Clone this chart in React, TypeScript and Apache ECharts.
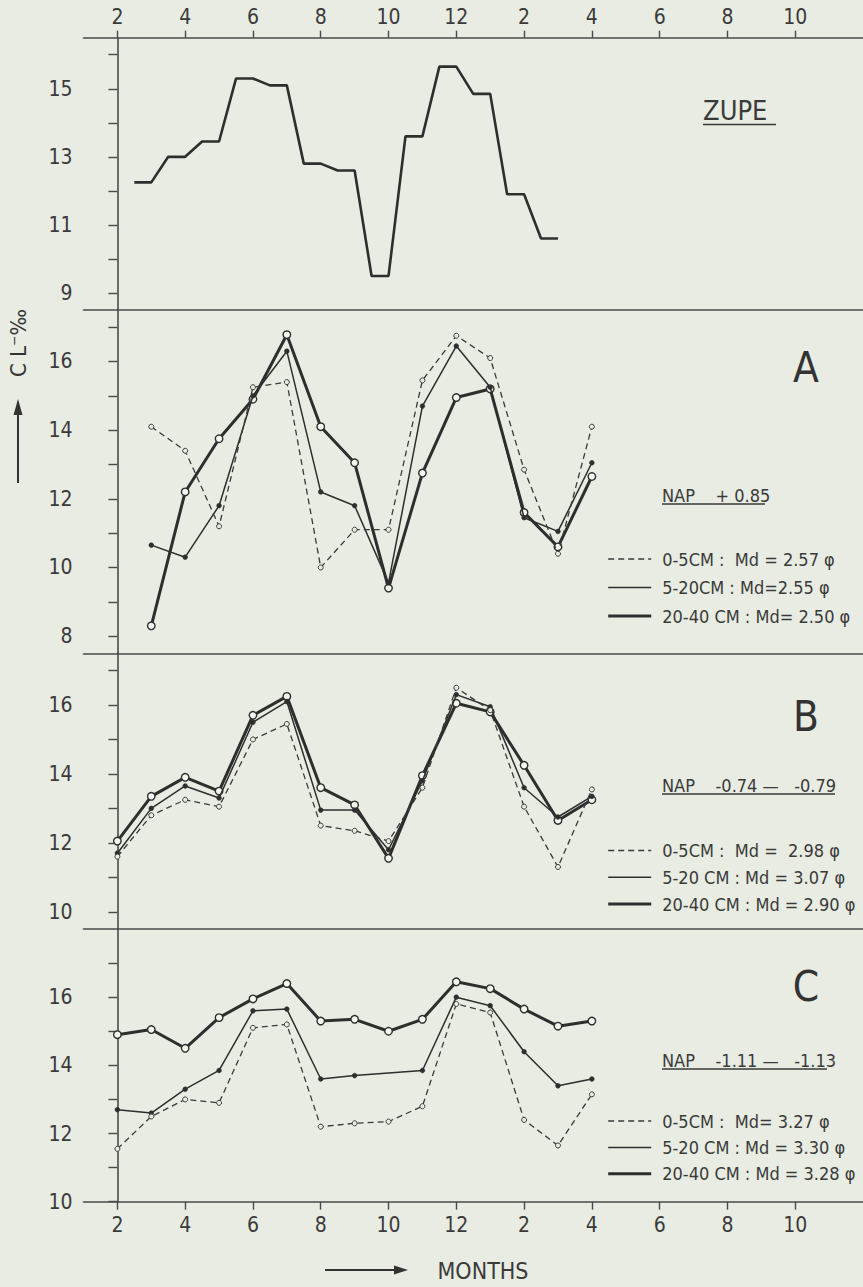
import React, { useEffect, useRef } from "react";
import * as echarts from "echarts";

// ---------- data ----------
// x index: 0 = Feb (year 1), 10 = Dec, 12 = Feb (year 2) ...
const monthIdx = [0, 1, 2, 3, 4, 5, 6, 7, 8, 9, 10, 11, 12, 13, 14];
const xTickValues = [0, 2, 4, 6, 8, 10, 12, 14, 16, 18, 20];
const xTickLabels = ["2", "4", "6", "8", "10", "12", "2", "4", "6", "8", "10"];

const zupeX = [0.5, 1, 1.5, 2, 2.5, 3, 3.5, 4, 4.5, 5, 5.5, 6, 6.5, 7, 7.5, 8, 8.5, 9, 9.5, 10, 10.5, 11, 11.5, 12, 12.5, 13];
const zupeY = [12.25, 12.25, 13.0, 13.0, 13.45, 13.45, 15.3, 15.3, 15.1, 15.1, 12.8, 12.8, 12.6, 12.6, 9.5, 9.5, 13.6, 13.6, 15.65, 15.65, 14.85, 14.85, 11.9, 11.9, 10.6, 10.6];

const aShallow = [null, 14.1, 13.4, 11.2, 15.25, 15.4, 10.0, 11.1, 11.1, 15.45, 16.75, 16.1, 12.85, 10.4, 14.1];
const aMid = [null, 10.65, 10.3, 11.8, 15.0, 16.3, 12.2, 11.8, 9.55, 14.7, 16.45, 15.25, 11.45, 11.05, 13.05];
const aDeep = [null, 8.3, 12.2, 13.75, 14.9, 16.78, 14.1, 13.05, 9.4, 12.75, 14.95, 15.2, 11.6, 10.6, 12.65];

const bShallow = [11.6, 12.8, 13.25, 13.05, 15.0, 15.45, 12.5, 12.35, 12.05, 13.6, 16.5, 15.85, 13.05, 11.3, 13.55];
const bMid = [11.7, 13.0, 13.65, 13.3, 15.5, 16.1, 12.95, 12.95, 11.8, 13.8, 16.3, 15.95, 13.6, 12.75, 13.35];
const bDeep = [12.05, 13.35, 13.9, 13.5, 15.7, 16.25, 13.6, 13.1, 11.55, 13.95, 16.05, 15.8, 14.25, 12.65, 13.25];

const cShallow = [11.55, 12.5, 13.0, 12.9, 15.1, 15.2, 12.2, 12.3, 12.35, 12.8, 15.8, 15.55, 12.4, 11.65, 13.15];
const cMid = [12.7, 12.6, 13.3, 13.85, 15.6, 15.65, 13.6, 13.7, null, 13.85, 16.0, 15.75, 14.4, 13.4, 13.6];
const cDeep = [14.9, 15.05, 14.5, 15.4, 15.95, 16.4, 15.3, 15.35, 15.0, 15.35, 16.45, 16.25, 15.65, 15.15, 15.3];

const legendA = ["0-5CM :  Md = 2.57 φ", "5-20CM : Md=2.55 φ", "20-40 CM : Md= 2.50 φ"];
const legendB = ["0-5CM :  Md =  2.98 φ", "5-20 CM : Md = 3.07 φ", "20-40 CM : Md = 2.90 φ"];
const legendC = ["0-5CM :  Md= 3.27 φ", "5-20 CM : Md = 3.30 φ", "20-40 CM : Md = 3.28 φ"];

const napTexts = ["NAP    + 0.85", "NAP    -0.74 —   -0.79", "NAP    -1.11 —   -1.13"];
const panelLetters = ["A", "B", "C"];

// ---------- styling ----------
const BG = "#e8ece2";
const INK = "#2e2e2e";
const AXIS = "#4a4a4a";
const FONT = "'DejaVu Sans Condensed', 'Liberation Sans Narrow', sans-serif";

const X0 = 83.5;
const XW = 784;

const panels = [
  { top: 37.7, height: 272.3, min: 8.5, max: 16.5, ticks: [9, 10, 11, 12, 13, 14, 15, 16], labels: [9, 11, 13, 15] },
  { top: 310, height: 343.3, min: 7.5, max: 17.5, ticks: [8, 9, 10, 11, 12, 13, 14, 15, 16, 17], labels: [8, 10, 12, 14, 16] },
  { top: 653.3, height: 275.7, min: 9.5, max: 17.5, ticks: [10, 11, 12, 13, 14, 15, 16, 17], labels: [10, 12, 14, 16] },
  { top: 929, height: 272.7, min: 10, max: 18, ticks: [10, 11, 12, 13, 14, 15, 16, 17], labels: [10, 12, 14, 16] },
];

const depthPanels = [
  { shallow: aShallow, mid: aMid, deep: aDeep, names: legendA, legendTop: 545, gap: 10.5, napY: 495, napX1: 765, letterY: 367 },
  { shallow: bShallow, mid: bMid, deep: bDeep, names: legendB, legendTop: 836.5, gap: 8.8, napY: 785, napX1: 835, letterY: 716 },
  { shallow: cShallow, mid: cMid, deep: cDeep, names: legendC, legendTop: 1107, gap: 8.4, napY: 1060, napX1: 827, letterY: 986 },
];

function pairs(vals: (number | null)[]) {
  const out: number[][] = [];
  vals.forEach((v, i) => {
    if (v !== null && v !== undefined) out.push([monthIdx[i], v]);
  });
  return out;
}

function xLabel(v: number) {
  const k = xTickValues.indexOf(Math.round(v));
  return k >= 0 ? xTickLabels[k] : "";
}

function buildOption() {
  const axisLine = { show: true, lineStyle: { color: AXIS, width: 1.6 } };
  const labelStyle = { color: "#3a3a3a", fontSize: 21, fontFamily: FONT };

  const grid = panels.map((p) => ({ left: X0, top: p.top, width: XW, height: p.height, show: false }));

  const xAxis: any[] = panels.map((p, i) => ({
    gridIndex: i,
    type: "value",
    min: -1,
    max: 22,
    position: "bottom",
    axisLine,
    axisTick: { show: i === 3, customValues: xTickValues, length: 8, lineStyle: { color: AXIS, width: 1.4 } },
    axisLabel: { show: i === 3, customValues: xTickValues, formatter: xLabel, margin: 13, ...labelStyle },
    splitLine: { show: false },
  }));
  xAxis.push({
    gridIndex: 0,
    type: "value",
    min: -1,
    max: 22,
    position: "top",
    axisLine,
    axisTick: { show: true, customValues: xTickValues, length: 7, lineStyle: { color: AXIS, width: 1.4 } },
    axisLabel: { show: true, customValues: xTickValues, formatter: xLabel, margin: 10, ...labelStyle },
    splitLine: { show: false },
  });

  const yAxis = panels.map((p, i) => ({
    gridIndex: i,
    type: "value",
    min: p.min,
    max: p.max,
    axisLine,
    axisTick: { show: true, customValues: p.ticks, length: 9, lineStyle: { color: AXIS, width: 1.4 } },
    axisLabel: { show: true, customValues: p.labels, margin: 11, ...labelStyle },
    splitLine: { show: false },
  }));

  const series: any[] = [
    {
      name: "ZUPE",
      type: "line",
      xAxisIndex: 0,
      yAxisIndex: 0,
      data: zupeX.map((x, k) => [x, zupeY[k]]),
      symbol: "none",
      lineStyle: { color: INK, width: 2.6 },
    },
  ];

  depthPanels.forEach((d, j) => {
    const idx = j + 1;
    series.push({
      name: d.names[2],
      type: "line",
      xAxisIndex: idx,
      yAxisIndex: idx,
      data: pairs(d.deep),
      symbol: "circle",
      symbolSize: 7.5,
      showAllSymbol: true,
      lineStyle: { color: INK, width: 3 },
      itemStyle: { color: "#f5f7f1", borderColor: INK, borderWidth: 1.4 },
      z: 3,
    });
    series.push({
      name: d.names[1],
      type: "line",
      xAxisIndex: idx,
      yAxisIndex: idx,
      data: pairs(d.mid),
      symbol: "circle",
      symbolSize: 4.8,
      showAllSymbol: true,
      lineStyle: { color: INK, width: 1.5 },
      itemStyle: { color: INK, borderColor: INK, borderWidth: 0.5 },
      z: 4,
    });
    series.push({
      name: d.names[0],
      type: "line",
      xAxisIndex: idx,
      yAxisIndex: idx,
      data: pairs(d.shallow),
      symbol: "circle",
      symbolSize: 5,
      showAllSymbol: true,
      lineStyle: { color: "#3a3a3a", width: 1.3, type: [6, 4] },
      itemStyle: { color: BG, borderColor: "#3a3a3a", borderWidth: 1 },
      z: 5,
    });
  });

  const legend = depthPanels.map((d) => ({
    orient: "vertical",
    left: 601.7,
    top: d.legendTop,
    itemWidth: 43,
    itemHeight: 16,
    itemGap: d.gap,
    selectedMode: false,
    data: [d.names[0], d.names[1], d.names[2]],
    itemStyle: { opacity: 0 },
    lineStyle: { width: "inherit" },
    textStyle: { color: "#3a3a3a", fontSize: 18, fontFamily: FONT, lineHeight: 16, padding: [0, 0, 0, 6] },
  }));

  const graphic: any[] = [];
  // ZUPE title
  graphic.push({ type: "text", left: 703, top: 97, style: { text: "ZUPE", fill: "#3a3a3a", font: `27px ${FONT}` } });
  graphic.push({ type: "line", shape: { x1: 703, y1: 124.5, x2: 776, y2: 124.5 }, style: { stroke: "#3a3a3a", lineWidth: 1.6 } });
  depthPanels.forEach((d, j) => {
    graphic.push({
      type: "text",
      x: 806,
      y: d.letterY,
      style: { text: panelLetters[j], fill: "#333", font: `42px ${FONT}`, textAlign: "center", textVerticalAlign: "middle" },
    });
    graphic.push({
      type: "text",
      x: 662,
      y: d.napY,
      style: { text: napTexts[j], fill: "#3a3a3a", font: `18px ${FONT}`, textAlign: "left", textVerticalAlign: "middle" },
    });
    graphic.push({
      type: "line",
      shape: { x1: 662, y1: d.napY + 9, x2: d.napX1, y2: d.napY + 9 },
      style: { stroke: "#3a3a3a", lineWidth: 1.3 },
    });
  });
  // y-axis title with arrow
  graphic.push({
    type: "text",
    x: 18,
    y: 343,
    rotation: Math.PI / 2,
    style: { text: "C L⁻‰", fill: "#333", font: `22px ${FONT}`, textAlign: "center", textVerticalAlign: "middle" },
  });
  graphic.push({ type: "line", shape: { x1: 18, y1: 483, x2: 18, y2: 412 }, style: { stroke: "#333", lineWidth: 2 } });
  graphic.push({ type: "polygon", shape: { points: [[18, 399], [13.5, 415], [22.5, 415]] }, style: { fill: "#333" } });
  // MONTHS label with arrow
  graphic.push({ type: "line", shape: { x1: 325, y1: 1270, x2: 396, y2: 1270 }, style: { stroke: "#333", lineWidth: 2 } });
  graphic.push({ type: "polygon", shape: { points: [[408, 1270], [394, 1265.5], [394, 1274.5]] }, style: { fill: "#333" } });
  graphic.push({
    type: "text",
    x: 483,
    y: 1271,
    style: { text: "MONTHS", fill: "#3a3a3a", font: `23px ${FONT}`, textAlign: "center", textVerticalAlign: "middle" },
  });

  return {
    animation: false,
    backgroundColor: BG,
    grid,
    xAxis,
    yAxis,
    legend,
    series,
    graphic,
  };
}

export default function App() {
  const ref = useRef<HTMLDivElement>(null);
  useEffect(() => {
    if (!ref.current) return;
    const chart = echarts.init(ref.current, null, { renderer: "svg" });
    chart.setOption(buildOption() as any);
    return () => chart.dispose();
  }, []);
  return (
    <div
      ref={ref}
      style={{ position: "fixed", left: 0, top: 0, width: 863, height: 1287, background: BG }}
    />
  );
}
